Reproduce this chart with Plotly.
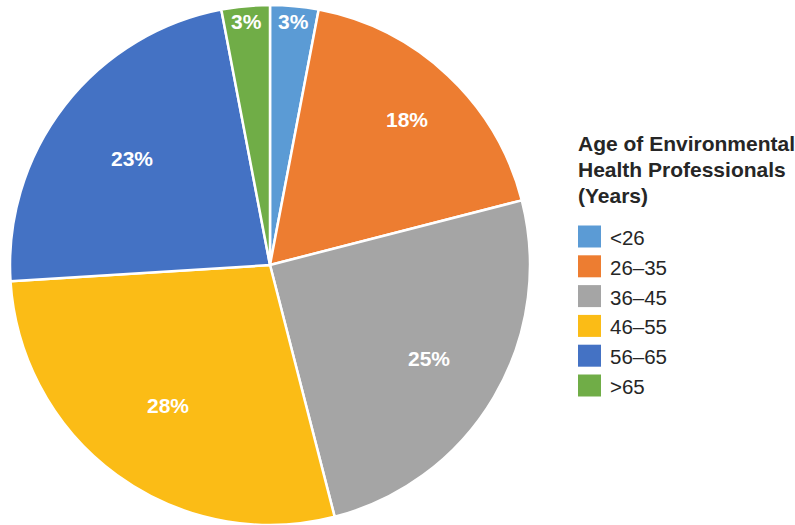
import math
import plotly.graph_objects as go

categories = ["<26", "26–35", "36–45", "46–55", "56–65", ">65"]
values = [3, 18, 25, 28, 23, 3]
colors = ["#5B9BD5", "#ED7D31", "#A5A5A5", "#FBBC16", "#4472C4", "#70AD47"]
legend_title = ["Age of Environmental", "Health Professionals", "(Years)"]

# label placement (fraction of radius from centre), style only
label_r = [0.94, 0.77, 0.71, 0.67, 0.67, 0.94]

W, H = 795, 525
FONT = "Liberation Sans, Arial"
cx, cy, R = 270, 265, 260  # pie centre and radius in pixels

fig = go.Figure(go.Pie(
    labels=categories,
    values=values,
    sort=False,
    direction="clockwise",
    rotation=0,
    marker=dict(colors=colors, line=dict(color="white", width=2.5)),
    textinfo="none",
    domain=dict(x=[(cx - R) / W, (cx + R) / W], y=[1 - (cy + R) / H, 1 - (cy - R) / H]),
    showlegend=False,
    hoverinfo="label+percent",
))

annotations = []
shapes = []

# slice percentage labels, placed at each slice's mid-angle
total = sum(values)
cum = 0
for v, rf in zip(values, label_r):
    mid = (cum + v / 2) / total * 2 * math.pi
    cum += v
    px = cx + rf * R * math.sin(mid)
    py = cy - rf * R * math.cos(mid)
    annotations.append(dict(
        x=px / W, y=1 - py / H, xref="paper", yref="paper",
        xanchor="center", yanchor="middle", showarrow=False,
        text="<b>%d%%</b>" % round(v / total * 100),
        font=dict(family=FONT, size=21, color="white"),
    ))

# legend title
title_y = [144, 170, 196]
for line, yy in zip(legend_title, title_y):
    annotations.append(dict(
        x=576 / W, y=1 - yy / H, xref="paper", yref="paper",
        xanchor="left", yanchor="middle", showarrow=False,
        text="<b>" + line + "</b>",
        font=dict(family=FONT, size=21, color="#262626"),
    ))

# legend entries
row0, step = 236.5, 29.8
for i, (cat, col) in enumerate(zip(categories, colors)):
    yc = row0 + i * step
    shapes.append(dict(
        type="rect", xref="paper", yref="paper",
        x0=578 / W, x1=601 / W, y0=1 - (yc - 11) / H, y1=1 - (yc + 11) / H,
        fillcolor=col, line=dict(width=0),
    ))
    annotations.append(dict(
        x=608 / W, y=1 - (yc + 1) / H, xref="paper", yref="paper",
        xanchor="left", yanchor="middle", showarrow=False,
        text=cat,
        font=dict(family=FONT, size=20.5, color="#262626"),
    ))

fig.update_layout(
    width=W, height=H,
    margin=dict(l=0, r=0, t=0, b=0),
    paper_bgcolor="white", plot_bgcolor="white",
    annotations=annotations, shapes=shapes,
)

fig.write_html("out.html", config={"displayModeBar": False},
               post_script="document.body.style.margin='0px';")
